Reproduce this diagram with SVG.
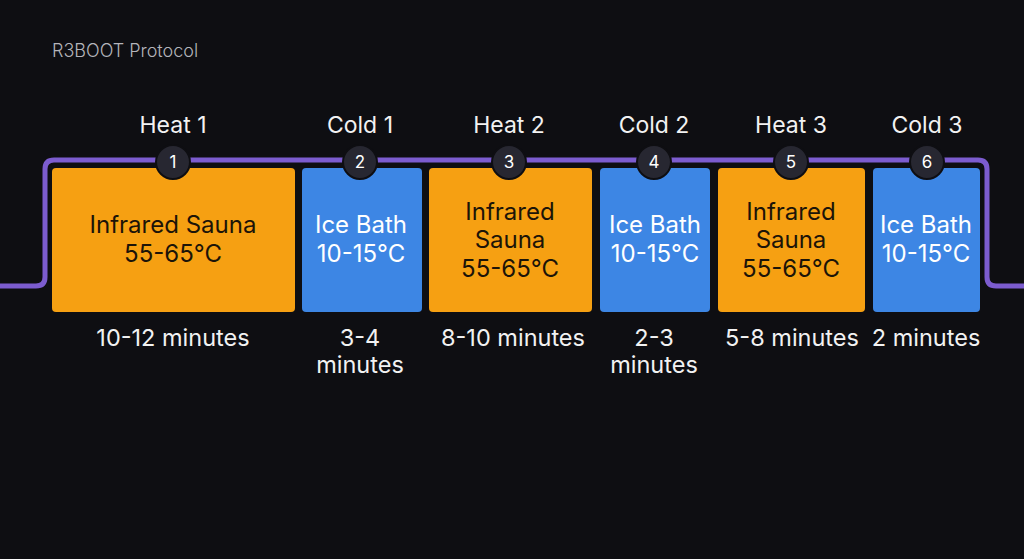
<svg xmlns="http://www.w3.org/2000/svg" width="1024" height="559" viewBox="0 0 1024 559">
<style>
.bg{fill:#0e0e12}
.title{font-family:Inter,"Liberation Sans",sans-serif;font-size:18px;fill:#b4b4ba;font-weight:300}
.lbl{font-family:Inter,"Liberation Sans",sans-serif;font-size:23px;fill:#f2f2f2;text-anchor:middle}
.dur{font-family:Inter,"Liberation Sans",sans-serif;font-size:23.5px;fill:#f2f2f2;text-anchor:middle}
.heat rect{fill:#f6a012}
.cold rect{fill:#3d86e4}
.heat text{font-family:Inter,"Liberation Sans",sans-serif;font-size:24px;fill:#1c1408;text-anchor:middle}
.cold text{font-family:Inter,"Liberation Sans",sans-serif;font-size:24px;fill:#ffffff;text-anchor:middle}
.badge circle{fill:#272731;stroke:#0e0e12;stroke-width:2}
.badge text{font-family:Inter,"Liberation Sans",sans-serif;font-size:17px;fill:#ffffff;text-anchor:middle}
.path{fill:none;stroke:#7c5ccf;stroke-width:5}
</style>
<rect class="bg" x="0" y="0" width="1024" height="559"/>
<text class="title" x="52" y="57">R3BOOT Protocol</text>
<g id="connectors">
<path class="path" d="M0,286 H36 Q45,286 45,277 V169 Q45,160 54,160 H978 Q987,160 987,169 V277 Q987,286 996,286 H1024"/>
</g>
<g id="node1" class="heat">
<rect x="52" y="168" width="243" height="144" rx="4"/>
<text x="173" y="233">Infrared Sauna</text>
<text x="173" y="262">55-65°C</text>
</g>
<g id="node2" class="cold">
<rect x="302" y="168" width="120" height="144" rx="4"/>
<text x="361" y="233">Ice Bath</text>
<text x="361" y="262">10-15°C</text>
</g>
<g id="node3" class="heat">
<rect x="429" y="168" width="163" height="144" rx="4"/>
<text x="510" y="220">Infrared</text>
<text x="510" y="248">Sauna</text>
<text x="510" y="277">55-65°C</text>
</g>
<g id="node4" class="cold">
<rect x="600" y="168" width="110" height="144" rx="4"/>
<text x="655" y="233">Ice Bath</text>
<text x="655" y="262">10-15°C</text>
</g>
<g id="node5" class="heat">
<rect x="718" y="168" width="147" height="144" rx="4"/>
<text x="791" y="220">Infrared</text>
<text x="791" y="248">Sauna</text>
<text x="791" y="277">55-65°C</text>
</g>
<g id="node6" class="cold">
<rect x="873" y="168" width="107" height="144" rx="4"/>
<text x="926" y="233">Ice Bath</text>
<text x="926" y="262">10-15°C</text>
</g>
<g id="badges">
<g class="badge"><circle cx="173" cy="162" r="17"/><text x="173" y="168">1</text></g>
<g class="badge"><circle cx="360" cy="162" r="17"/><text x="360" y="168">2</text></g>
<g class="badge"><circle cx="509" cy="162" r="17"/><text x="509" y="168">3</text></g>
<g class="badge"><circle cx="654" cy="162" r="17"/><text x="654" y="168">4</text></g>
<g class="badge"><circle cx="791" cy="162" r="17"/><text x="791" y="168">5</text></g>
<g class="badge"><circle cx="927" cy="162" r="17"/><text x="927" y="168">6</text></g>
</g>
<g id="labels">
<text class="lbl" x="173" y="133">Heat 1</text>
<text class="lbl" x="360" y="133">Cold 1</text>
<text class="lbl" x="509" y="133">Heat 2</text>
<text class="lbl" x="654" y="133">Cold 2</text>
<text class="lbl" x="791" y="133">Heat 3</text>
<text class="lbl" x="927" y="133">Cold 3</text>
</g>
<g id="durations">
<text class="dur" x="173" y="346">10-12 minutes</text>
<text class="dur" x="360" y="346">3-4</text>
<text class="dur" x="360" y="373">minutes</text>
<text class="dur" x="513" y="346">8-10 minutes</text>
<text class="dur" x="654" y="346">2-3</text>
<text class="dur" x="654" y="373">minutes</text>
<text class="dur" x="792" y="346">5-8 minutes</text>
<text class="dur" x="926" y="346">2 minutes</text>
</g>
</svg>
